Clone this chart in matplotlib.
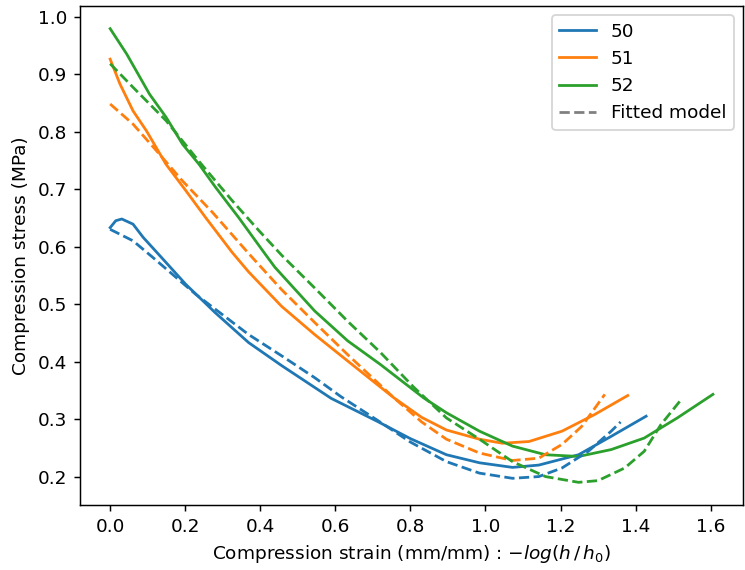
import matplotlib
matplotlib.use("Agg")
import matplotlib.pyplot as plt

labels = ["50", "51", "52"]
colors = ["#1f77b4", "#ff7f0e", "#2ca02c"]

# Measured curves
x50 = [0.0, 0.015, 0.031, 0.061, 0.088, 0.141, 0.202, 0.28, 0.369, 0.457, 0.589, 0.712, 0.8, 0.896, 0.984, 1.072, 1.142, 1.248, 1.335, 1.428]
y50 = [0.633, 0.645, 0.648, 0.639, 0.616, 0.578, 0.534, 0.485, 0.433, 0.393, 0.336, 0.296, 0.266, 0.238, 0.224, 0.216, 0.22, 0.238, 0.27, 0.305]

x51 = [0.0, 0.026, 0.061, 0.097, 0.149, 0.202, 0.255, 0.325, 0.369, 0.457, 0.545, 0.633, 0.756, 0.83, 0.896, 0.984, 1.045, 1.116, 1.204, 1.291, 1.379]
y51 = [0.926, 0.883, 0.836, 0.801, 0.743, 0.697, 0.65, 0.59, 0.556, 0.496, 0.447, 0.401, 0.337, 0.303, 0.281, 0.265, 0.258, 0.261, 0.279, 0.308, 0.341]

x52 = [0.0, 0.044, 0.105, 0.149, 0.193, 0.237, 0.281, 0.343, 0.413, 0.439, 0.545, 0.633, 0.72, 0.835, 0.896, 0.984, 1.072, 1.16, 1.248, 1.335, 1.423, 1.511, 1.606]
y52 = [0.979, 0.935, 0.865, 0.825, 0.778, 0.743, 0.703, 0.65, 0.587, 0.564, 0.488, 0.436, 0.395, 0.337, 0.311, 0.279, 0.253, 0.238, 0.235, 0.247, 0.267, 0.302, 0.343]

# Fitted model curves
fx50 = [0.0, 0.061, 0.114, 0.228, 0.369, 0.457, 0.545, 0.615, 0.712, 0.8, 0.896, 0.984, 1.072, 1.142, 1.204, 1.274, 1.335, 1.36]
fy50 = [0.63, 0.61, 0.581, 0.517, 0.447, 0.41, 0.372, 0.339, 0.298, 0.26, 0.226, 0.206, 0.197, 0.2, 0.215, 0.244, 0.279, 0.295]

fx51 = [0.0, 0.061, 0.123, 0.193, 0.272, 0.369, 0.457, 0.545, 0.633, 0.756, 0.83, 0.896, 0.984, 1.072, 1.142, 1.204, 1.256, 1.318]
fy51 = [0.848, 0.813, 0.767, 0.714, 0.66, 0.588, 0.525, 0.468, 0.412, 0.337, 0.295, 0.265, 0.241, 0.228, 0.232, 0.256, 0.287, 0.343]

fx52 = [0.0, 0.061, 0.149, 0.237, 0.325, 0.396, 0.457, 0.545, 0.633, 0.72, 0.808, 0.896, 0.984, 1.072, 1.16, 1.248, 1.3, 1.371, 1.423, 1.467, 1.524]
fy52 = [0.918, 0.877, 0.819, 0.748, 0.68, 0.628, 0.585, 0.528, 0.47, 0.416, 0.356, 0.302, 0.265, 0.226, 0.2, 0.19, 0.193, 0.215, 0.244, 0.29, 0.336]

measured = [(x50, y50), (x51, y51), (x52, y52)]
fitted = [(fx50, fy50), (fx51, fy51), (fx52, fy52)]

dpi = 133
fig = plt.figure(figsize=(745 / dpi, 570 / dpi), dpi=dpi)
ax = fig.add_axes([0.1074, 0.114, 0.89, 0.8755])

for (x, y), c, lab in zip(measured, colors, labels):
    ax.plot(x, y, color=c, lw=1.5, label=lab)
for (x, y), c in zip(fitted, colors):
    ax.plot(x, y, color=c, lw=1.5, ls="--")
ax.plot([], [], color="gray", ls="--", lw=1.5, label="Fitted model")

ax.set_xticks([0.0, 0.2, 0.4, 0.6, 0.8, 1.0, 1.2, 1.4, 1.6])
ax.set_yticks([0.2, 0.3, 0.4, 0.5, 0.6, 0.7, 0.8, 0.9, 1.0])
ax.set_xlabel(r"Compression strain (mm/mm) : $-log(h\,/\,h_0)$")
ax.set_ylabel("Compression stress (MPa)")
ax.legend(loc="upper right")

fig.savefig("out.png", dpi=dpi)
